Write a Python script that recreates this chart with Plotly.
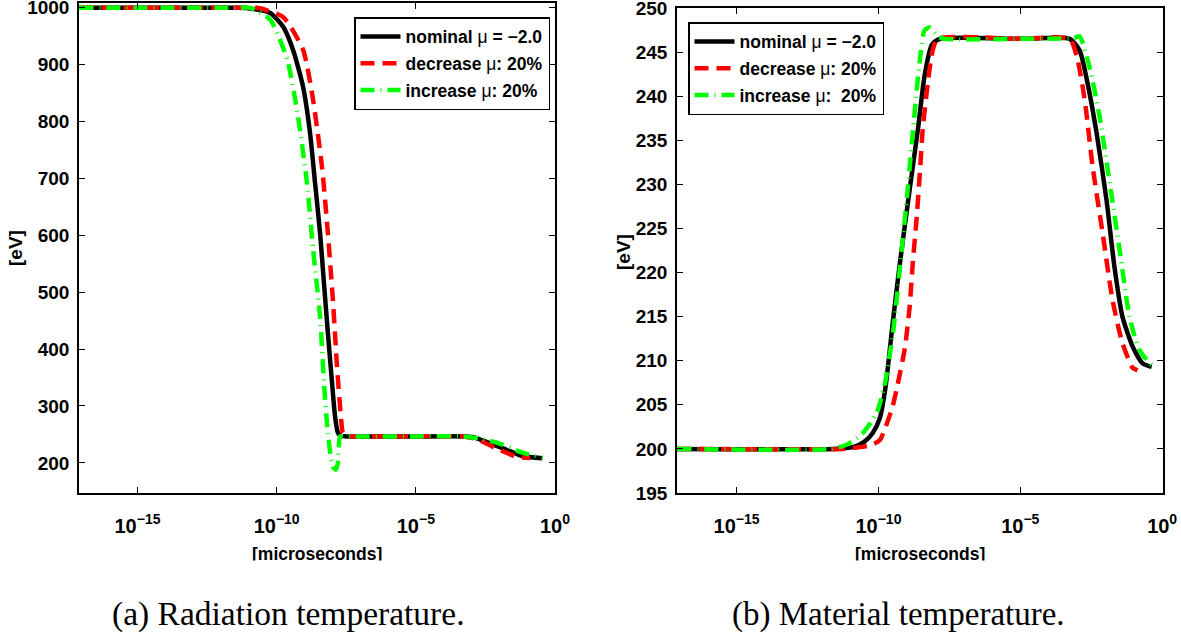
import plotly.graph_objects as go

# ---------------- data (log10 of time in microseconds, temperature in eV) ----------------
# (a) Radiation temperature
rad_nom_logt = [-17.1, -11.5, -10.95, -10.23, -9.77, -9.41, -9.05, -8.80, -8.62, -8.44, -8.30,
                -8.16, -8.01, -7.90, -7.80, -7.70, -7.5, -5.0, -3.3, -2.96, -2.46, -1.74, -1.17, -0.45]
rad_nom_val = [1000, 1000, 999, 991, 967, 926, 861, 780, 692, 604, 516,
               429, 341, 281, 253, 247.5, 246.5, 246.5, 246.5, 245.5, 237, 223, 212, 208]

rad_dec_logt = [-17.1, -11.5, -10.70, -9.77, -9.05, -8.69, -8.37, -8.16, -7.98, -7.83, -7.69,
                -7.62, -7.47, -7.3, -5.0, -3.3, -2.82, -2.10, -1.38, -1.02, -0.9]
rad_dec_val = [1000, 1000, 1000, 984, 926, 838, 720, 604, 487, 369, 281,
               253, 247, 246.5, 246.5, 246.5, 242, 225, 211, 209, 208.5]

rad_inc_logt = [-17.1, -11.5, -10.95, -10.23, -9.62, -9.23, -8.91, -8.69, -8.44, -8.30, -8.16,
                -7.98, -7.87, -7.80, -7.72, -7.6, -5.0, -3.3, -2.6, -1.88, -1.17, -0.45]
rad_inc_val = [1000, 1000, 1000, 979, 909, 808, 692, 575, 457, 341, 253,
               193, 188, 200, 246.5, 246.5, 246.5, 246.5, 242, 232, 218, 209]

# (b) Material temperature
mat_nom_logt = [-17.1, -11.6, -10.9, -10.5, -10.2, -9.95, -9.75, -9.50, -9.25, -8.90, -8.61,
                -8.37, -8.12, -7.84, -5.0, -3.26, -2.91, -2.63, -2.31, -1.96, -1.68, -1.40,
                -1.04, -0.69, -0.37]
mat_nom_val = [200, 200, 200.2, 200.8, 201.8, 203.5, 207.0, 214.2, 220.9, 229.4, 236.2,
               242.4, 245.8, 246.5, 246.5, 246.5, 245.2, 241.5, 235.8, 228.2, 220.6, 215,
               211.6, 209.7, 209.3]

mat_dec_logt = [-17.1, -11.3, -10.66, -10.2, -9.95, -9.78, -9.50, -9.35, -9.07, -8.90, -8.79,
                -8.65, -8.54, -8.44, -8.26, -8.09, -7.91, -5.0, -3.26, -3.0, -2.73, -2.45,
                -2.10, -1.75, -1.40, -1.04, -0.87]
mat_dec_val = [200, 200, 200.2, 200.5, 201.0, 202.2, 204.8, 206.9, 211.4, 216.1, 221.1,
               226.3, 231.3, 236.2, 241.5, 245.2, 246.5, 246.5, 246.5, 244.4, 239.6, 232,
               224.5, 216.9, 212, 209.2, 208.9]

mat_inc_logt = [-17.1, -11.7, -11.1, -10.55, -10.06, -9.78, -9.49, -9.25, -8.97, -8.75, -8.54,
                -8.37, -8.19, -7.91, -7.66, -5.0, -3.1, -2.91, -2.56, -2.20, -1.85, -1.50,
                -1.15, -0.80, -0.37]
mat_inc_val = [200, 200, 200.5, 201.8, 204.1, 207.3, 213.1, 220.3, 229.4, 237.3, 244.1,
               247.5, 247.8, 246.8, 246.5, 246.5, 246.6, 246.8, 243.3, 237.6, 230.2, 222.6,
               215, 211.2, 209.5]

legend_names_a = ["nominal μ = −2.0", "decrease μ: 20%", "increase μ: 20%"]
legend_names_b = ["nominal μ = −2.0", "decrease μ: 20%", "increase μ:  20%"]
x_tick_vals = [1e-15, 1e-10, 1e-5, 1e0]
x_tick_text = ["10<sup>−15</sup>", "10<sup>−10</sup>", "10<sup>−5</sup>", "10<sup>0</sup>"]
y_ticks_a = [200, 300, 400, 500, 600, 700, 800, 900, 1000]
y_ticks_b = [195, 200, 205, 210, 215, 220, 225, 230, 235, 240, 245, 250]
captions = ["(a) Radiation temperature.", "(b) Material temperature."]

# ---------------- styling ----------------
W, H = 1181, 636
styles = [
    dict(color="#000000", width=4.5, dash="solid"),
    dict(color="#ff0000", width=4.5, dash="14px,8px"),
    dict(color="#00ff00", width=4.5, dash="14px,6px,1px,6px"),
]

def mu_plain(name):
    return name.replace("μ", '<span style="font-weight:normal">μ</span>')

fig = go.Figure()

series_a = [(rad_nom_logt, rad_nom_val), (rad_dec_logt, rad_dec_val), (rad_inc_logt, rad_inc_val)]
series_b = [(mat_nom_logt, mat_nom_val), (mat_dec_logt, mat_dec_val), (mat_inc_logt, mat_inc_val)]

for i, (lt, v) in enumerate(series_a):
    fig.add_trace(go.Scatter(
        x=[10 ** e for e in lt], y=v, mode="lines", name=mu_plain(legend_names_a[i]),
        line=dict(**styles[i], shape="spline", smoothing=0.6),
        xaxis="x", yaxis="y", legend="legend", legendgroup="a%d" % i))
for i, (lt, v) in enumerate(series_b):
    fig.add_trace(go.Scatter(
        x=[10 ** e for e in lt], y=v, mode="lines", name=mu_plain(legend_names_b[i]),
        line=dict(**styles[i], shape="spline", smoothing=0.6),
        xaxis="x2", yaxis="y2", legend="legend2", legendgroup="b%d" % i))

def px_x(p):
    return p / W

def px_y(p):
    return 1 - p / H

tick_font = dict(family="Liberation Sans", size=19, color="black", weight="bold")
xtick_font = dict(family="Liberation Sans", size=20, color="black", weight="bold")
axis_common = dict(showline=True, linecolor="black", linewidth=1.5, mirror="ticks",
                   ticks="inside", ticklen=6, tickwidth=1, tickcolor="black",
                   showgrid=False, zeroline=False, ticklabeloverflow="allow",
                   automargin=False)
legend_font = dict(family="Liberation Sans", size=17.5, color="black", weight="bold")

fig.update_layout(
    width=W, height=H, margin=dict(l=0, r=0, t=0, b=0, autoexpand=False),
    paper_bgcolor="white", plot_bgcolor="white", showlegend=True,
    xaxis=dict(domain=[px_x(79), px_x(555)], anchor="y", type="log", range=[-17.1, 0.0],
               tickvals=x_tick_vals, ticktext=x_tick_text, tickfont=xtick_font,
               ticklabelstandoff=14, **axis_common),
    yaxis=dict(domain=[px_y(493), px_y(3)], anchor="x", range=[147, 1008.5],
               tickvals=y_ticks_a, tickfont=tick_font, ticklabelstandoff=4, **axis_common),
    xaxis2=dict(domain=[px_x(677), px_x(1163)], anchor="y2", type="log", range=[-17.1, 0.03],
                tickvals=x_tick_vals, ticktext=x_tick_text, tickfont=xtick_font,
                ticklabelstandoff=14, **axis_common),
    yaxis2=dict(domain=[px_y(493), px_y(8)], anchor="x2", range=[195, 250],
                tickvals=y_ticks_b, tickfont=tick_font, ticklabelstandoff=4, **axis_common),
    legend=dict(x=px_x(354), y=px_y(17), xanchor="left", yanchor="top",
                bgcolor="white", bordercolor="black", borderwidth=1.5, font=legend_font,
                traceorder="grouped", tracegroupgap=1, itemwidth=40),
    legend2=dict(x=px_x(688), y=px_y(22), xanchor="left", yanchor="top",
                 bgcolor="white", bordercolor="black", borderwidth=1.5, font=legend_font,
                 traceorder="grouped", tracegroupgap=1, itemwidth=40),
)

label_font = dict(family="Liberation Sans", size=17.5, color="black", weight="bold")
annotations = [
    dict(text="[eV]", x=px_x(15), y=px_y(248), xref="paper", yref="paper", showarrow=False,
         textangle=-90, font=dict(label_font, size=19), xanchor="center", yanchor="middle"),
    dict(text="[eV]", x=px_x(623), y=px_y(252), xref="paper", yref="paper", showarrow=False,
         textangle=-90, font=dict(label_font, size=19), xanchor="center", yanchor="middle"),
    dict(text="[microseconds]", x=px_x(317), y=px_y(542), xref="paper", yref="paper",
         showarrow=False, font=label_font, xanchor="center", yanchor="top"),
    dict(text="[microseconds]", x=px_x(920), y=px_y(542), xref="paper", yref="paper",
         showarrow=False, font=label_font, xanchor="center", yanchor="top"),
    # white strips hiding the lower part of the axis labels (cropped as in the original)
    dict(text=" ", x=px_x(317), y=px_y(560), xref="paper", yref="paper", showarrow=False,
         width=230, height=24, bgcolor="white", borderpad=0, xanchor="center", yanchor="top"),
    dict(text=" ", x=px_x(920), y=px_y(560), xref="paper", yref="paper", showarrow=False,
         width=230, height=24, bgcolor="white", borderpad=0, xanchor="center", yanchor="top"),
    dict(text=captions[0], x=px_x(288), y=px_y(614), xref="paper", yref="paper",
         showarrow=False, xanchor="center", yanchor="middle",
         font=dict(family="Liberation Serif", size=33.5, color="black")),
    dict(text=captions[1], x=px_x(898), y=px_y(614), xref="paper", yref="paper",
         showarrow=False, xanchor="center", yanchor="middle",
         font=dict(family="Liberation Serif", size=33, color="black")),
]
fig.update_layout(annotations=annotations)

fig.write_html(
    "out.html",
    config={"displayModeBar": False},
    post_script=("document.documentElement.style.margin='0';document.body.style.margin='0';"
                 "document.documentElement.style.overflow='hidden';"
                 "document.body.style.overflow='hidden';"))
